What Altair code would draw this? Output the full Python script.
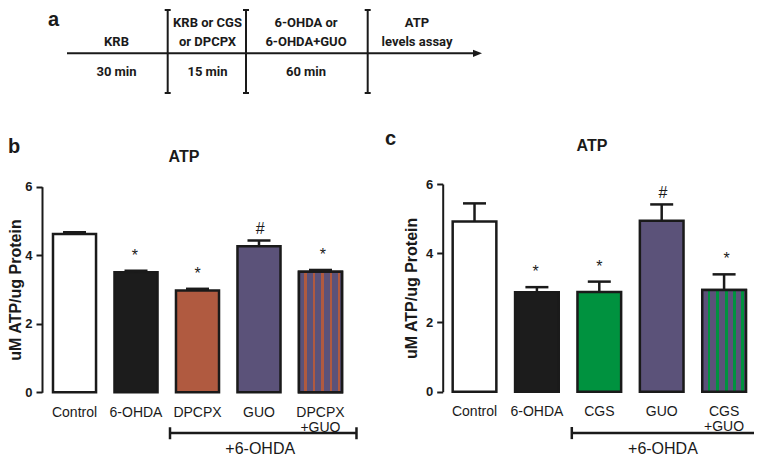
import altair as alt
import pandas as pd

W, H = 746, 448
INK = "#1a1a1a"
FONT = "Liberation Sans"
NARROW = "Roboto, Liberation Sans"

# ---------------- panel a : timeline (layout units = px) ----------------
tl_start, tl_tip = 59, 474
tl_bounds = [159.7, 238, 359.7]
tl_centers = [108.5, 199.5, 298, 409]
tl_line1 = ["", "KRB or CGS", "6-OHDA or", "ATP"]
tl_line2 = ["KRB", "or DPCPX", "6-OHDA+GUO", "levels assay"]
tl_line3 = ["30 min", "15 min", "60 min", ""]
tl_rows_y = [15, 34, 64]
tl_arrow_y = 45.3
tl_bar_top, tl_bar_bot = 2, 85

# ---------------- panel b ----------------
b_labels = ["Control", "6-OHDA", "DPCPX", "GUO", "DPCPX\n+GUO"]
b_means = [4.62, 3.50, 2.97, 4.26, 3.52]
b_sems = [0.05, 0.05, 0.05, 0.17, 0.05]
b_marks = ["", "*", "*", "#", "*"]
b_colors = ["#ffffff", "#1c1c1c", "#b05a40", "#5b5279", "#5b5279"]
b_stripe = "#b05a40"

# ---------------- panel c ----------------
c_labels = ["Control", "6-OHDA", "CGS", "GUO", "CGS\n+GUO"]
c_means = [4.92, 2.87, 2.88, 4.94, 2.94]
c_sems = [0.52, 0.15, 0.30, 0.47, 0.45]
c_marks = ["", "*", "*", "#", "*"]
c_colors = ["#ffffff", "#1c1c1c", "#00923f", "#5b5279", "#5b5279"]
c_stripe = "#00923f"

stripe_centers = [0.155, 0.35, 0.55, 0.745, 0.93]
stripe_width = 0.065

y_ticks = [0, 2, 4, 6]
group_label = "+6-OHDA"
bracket_y, bracket_cap = -1.19, [-1.02, -1.37]
group_text_y = -1.65

LX = alt.Scale(domain=[0, W], range=[0, W], nice=False, zero=False)
LY = alt.Scale(domain=[0, H], range=[0, H], nice=False, zero=False)


def gradient(base, stripe):
    stops = [alt.GradientStop(offset=0, color=base)]
    for c in stripe_centers:
        a, b = c - stripe_width / 2, c + stripe_width / 2
        stops += [alt.GradientStop(offset=a, color=base), alt.GradientStop(offset=a, color=stripe),
                  alt.GradientStop(offset=b, color=stripe), alt.GradientStop(offset=b, color=base)]
    stops.append(alt.GradientStop(offset=1, color=base))
    return alt.LinearGradient(gradient="linear", stops=stops, x1=0, x2=1, y1=0, y2=0)


def panel(labels, means, sems, marks, colors, stripe, xr, yr, axis_x, title_x):
    df = pd.DataFrame({"cond": labels, "mean": means, "sem": sems, "mark": marks,
                       "idx": list(range(len(labels)))})
    df["top"] = df["mean"] + df["sem"]
    xs = alt.Scale(domain=labels, range=xr, paddingInner=0.3, paddingOuter=0.2)
    ys = alt.Scale(domain=[0, 6], range=yr, nice=False)
    base = alt.Chart(df)
    xn = alt.X("cond:N", scale=xs, axis=None)

    bars = base.mark_bar(stroke=INK, strokeWidth=2.5).encode(
        x=alt.X("cond:N", scale=xs, title=None, axis=alt.Axis(
            orient="bottom", offset=-(H - yr[0]), domain=False, ticks=False, grid=False,
            labelPadding=20, labelBaseline="middle", labelLineHeight=15,
            labelExpr="split(datum.label, '\\n')", labelFontSize=14, labelFont=FONT,
            labelColor=INK, labelAngle=0)),
        y=alt.Y("mean:Q", scale=ys, axis=alt.Axis(
            orient="left", offset=-axis_x, values=y_ticks, grid=False,
            tickSize=6, tickWidth=2, tickColor=INK, domainColor=INK, domainWidth=2,
            labelFont=FONT, labelFontWeight="bold", labelFontSize=13, labelColor=INK,
            labelPadding=4, title="uM ATP/ug Protein", titleFont=FONT, titleFontSize=16,
            titleFontWeight="bold", titleColor=INK, titleX=title_x, titleAngle=270,
            titleBaseline="alphabetic")),
        fill=alt.Fill("cond:N", scale=alt.Scale(domain=labels, range=colors), legend=None),
    )
    striped = base.transform_filter(alt.datum.idx == len(labels) - 1).mark_bar(
        fill=gradient(colors[-1], stripe), stroke=INK, strokeWidth=2.5).encode(
        x=xn, y=alt.Y("mean:Q", scale=ys, axis=None))
    err = base.mark_rule(color=INK, strokeWidth=2.5).encode(
        x=xn, y=alt.Y("mean:Q", scale=ys, axis=None), y2="top:Q")
    cap = base.mark_tick(orient="horizontal", size=23, thickness=2.5, color=INK, opacity=1).encode(
        x=xn, y=alt.Y("top:Q", scale=ys, axis=None))
    star = base.transform_filter(alt.datum.mark == "*").mark_text(
        dy=-10, baseline="alphabetic", fontSize=16, font=FONT, color=INK).encode(
        x=xn, y=alt.Y("top:Q", scale=ys, axis=None), text="mark:N")
    hsh = base.transform_filter(alt.datum.mark == "#").mark_text(
        dy=-6.5, baseline="alphabetic", fontSize=16, font=FONT, color=INK).encode(
        x=xn, y=alt.Y("top:Q", scale=ys, axis=None), text="mark:N")

    gdf = pd.DataFrame({"start": [labels[2]], "end": [labels[4]], "mid": [labels[3]],
                        "y": [bracket_y], "c1": [bracket_cap[0]], "c2": [bracket_cap[1]],
                        "ty": [group_text_y], "text": [group_label]})
    gb = alt.Chart(gdf)
    br = gb.mark_rule(color=INK, strokeWidth=2.5, xOffset=-27.5, x2Offset=36).encode(
        x=alt.X("start:N", scale=xs, axis=None), x2="end:N", y=alt.Y("y:Q", scale=ys, axis=None))
    brl = gb.mark_rule(color=INK, strokeWidth=2.5, xOffset=-27.5).encode(
        x=alt.X("start:N", scale=xs, axis=None), y=alt.Y("c1:Q", scale=ys, axis=None), y2="c2:Q")
    brr = gb.mark_rule(color=INK, strokeWidth=2.5, xOffset=36).encode(
        x=alt.X("end:N", scale=xs, axis=None), y=alt.Y("c1:Q", scale=ys, axis=None), y2="c2:Q")
    bt = gb.mark_text(fontSize=16, font=FONT, color=INK, baseline="middle").encode(
        x=alt.X("mid:N", scale=xs, axis=None), y=alt.Y("ty:Q", scale=ys, axis=None), text="text:N")
    return [bars, striped, err, cap, star, hsh, br, brl, brr, bt]


layers = []
layers += panel(b_labels, b_means, b_sems, b_marks, b_colors, b_stripe,
                [32.7, 346.3], [384.3, 178.7], 34, -22)
layers += panel(c_labels, c_means, c_sems, c_marks, c_colors, c_stripe,
                [432.2, 750.4], [383.7, 176], 434.7, -26.2)

# timeline
arrow = alt.Chart(pd.DataFrame({"x": [tl_start], "x2": [tl_tip - 6], "y": [tl_arrow_y]})).mark_rule(
    color=INK, strokeWidth=2).encode(
    x=alt.X("x:Q", scale=LX, axis=None), x2="x2:Q", y=alt.Y("y:Q", scale=LY, axis=None))
head = alt.Chart(pd.DataFrame({"x": [tl_tip - 4.5], "y": [tl_arrow_y]})).mark_point(
    shape="M-1,-0.8L1,0L-1,0.8Z", size=81, filled=True, color=INK, opacity=1, strokeWidth=0).encode(
    x=alt.X("x:Q", scale=LX, axis=None), y=alt.Y("y:Q", scale=LY, axis=None))
bdf = pd.DataFrame({"x": tl_bounds, "y1": [tl_bar_top] * 3, "y2": [tl_bar_bot] * 3})
vbars = alt.Chart(bdf).mark_rule(color=INK, strokeWidth=2).encode(
    x=alt.X("x:Q", scale=LX, axis=None), y=alt.Y("y1:Q", scale=LY, axis=None), y2="y2:Q")
capt = alt.Chart(bdf).mark_rule(color=INK, strokeWidth=2, xOffset=-3, x2Offset=3).encode(
    x=alt.X("x:Q", scale=LX, axis=None), x2="x:Q", y=alt.Y("y1:Q", scale=LY, axis=None))
capb = alt.Chart(bdf).mark_rule(color=INK, strokeWidth=2, xOffset=-3, x2Offset=3).encode(
    x=alt.X("x:Q", scale=LX, axis=None), x2="x:Q", y=alt.Y("y2:Q", scale=LY, axis=None))
rows = []
for ry, line in zip(tl_rows_y, [tl_line1, tl_line2, tl_line3]):
    for cx, t in zip(tl_centers, line):
        if t:
            rows.append({"x": cx, "y": ry, "text": t})
tl_text = alt.Chart(pd.DataFrame(rows)).mark_text(
    font=NARROW, fontWeight="bold", fontSize=13, color=INK, baseline="middle").encode(
    x=alt.X("x:Q", scale=LX, axis=None), y=alt.Y("y:Q", scale=LY, axis=None), text="text:N")

letters = alt.Chart(pd.DataFrame({"x": [40, 0, 377], "y": [18, 144.7, 137],
                                  "text": ["a", "b", "c"]})).mark_text(
    font=FONT, fontWeight="bold", fontSize=20, color=INK, align="left", baseline="alphabetic").encode(
    x=alt.X("x:Q", scale=LX, axis=None), y=alt.Y("y:Q", scale=LY, axis=None), text="text:N")
titles = alt.Chart(pd.DataFrame({"x": [176, 584], "y": [148.5, 138], "text": ["ATP", "ATP"]})).mark_text(
    font=FONT, fontWeight="bold", fontSize=16, color=INK, baseline="middle").encode(
    x=alt.X("x:Q", scale=LX, axis=None), y=alt.Y("y:Q", scale=LY, axis=None), text="text:N")

layers += [arrow, head, vbars, capt, capb, tl_text, letters, titles]

chart = alt.layer(*layers).resolve_scale(
    x="independent", y="independent", fill="independent"
).resolve_axis(x="independent", y="independent").properties(
    width=W, height=H, autosize=alt.AutoSizeParams(type="none"), padding=0, background="white"
).configure_view(stroke="transparent", strokeWidth=0)

chart.save("out.html", embed_options={"renderer": "svg", "actions": False})
